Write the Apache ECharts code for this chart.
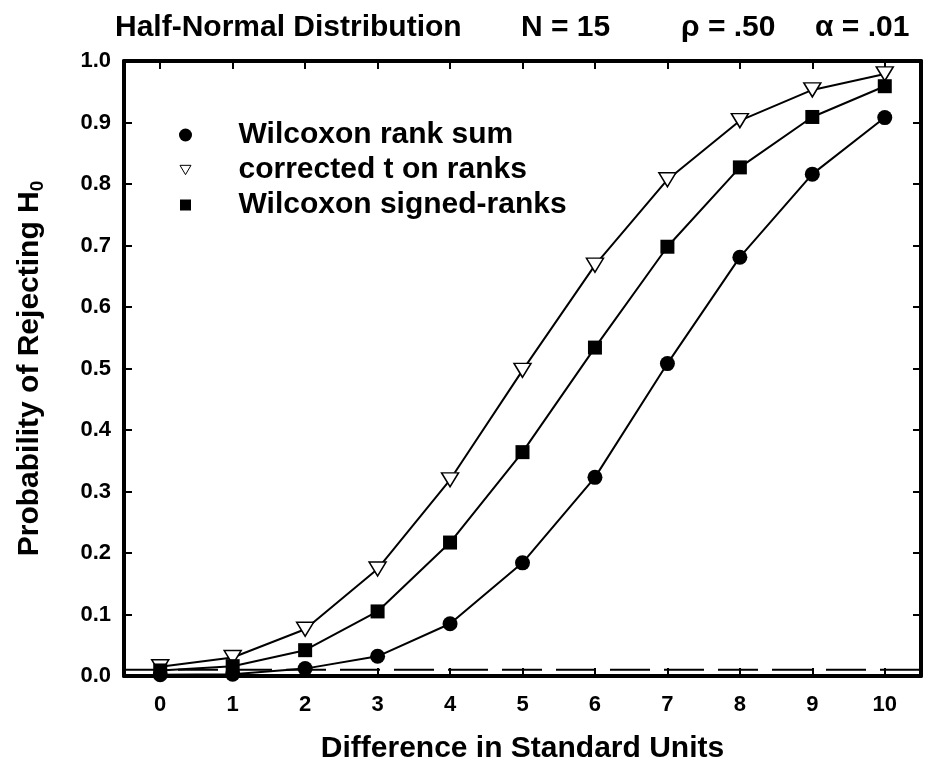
<!DOCTYPE html>
<html>
<head>
<meta charset="utf-8">
<script src="https://cdn.jsdelivr.net/npm/echarts@6/dist/echarts.min.js"></script>
<style>html,body{margin:0;padding:0;background:#fff;}#c{width:936px;height:780px;}</style>
</head>
<body>
<div id="c"></div>
<script>
var differences = [0, 1, 2, 3, 4, 5, 6, 7, 8, 9, 10];
var rankSum = [0.002, 0.003, 0.012, 0.032, 0.085, 0.184, 0.323, 0.508, 0.681, 0.816, 0.908];
var correctedT = [0.015, 0.030, 0.076, 0.174, 0.319, 0.497, 0.668, 0.807, 0.903, 0.953, 0.979];
var signedRanks = [0.009, 0.016, 0.042, 0.105, 0.217, 0.364, 0.534, 0.698, 0.827, 0.909, 0.959];
var alphaLevel = 0.01;
var xTicks = [0, 1, 2, 3, 4, 5, 6, 7, 8, 9, 10];
var yTicks = [0, 0.1, 0.2, 0.3, 0.4, 0.5, 0.6, 0.7, 0.8, 0.9, 1.0];
var seriesNames = ['Wilcoxon rank sum', 'corrected t on ranks', 'Wilcoxon signed-ranks'];
var titleParts = ['Half-Normal Distribution', 'N = 15', '\u03c1 = .50', '\u03b1 = .01'];

var FONT = '"Liberation Sans", Arial, Helvetica, sans-serif';
function pairs(vals) { return differences.map(function (d, i) { return [d, vals[i]]; }); }

var chart = echarts.init(document.getElementById('c'));
var axisLineStyle = { show: true, onZero: false, lineStyle: { color: '#000', width: 4 } };
var tickStyle = { show: true, inside: true, length: 8, lineStyle: { color: '#000', width: 2 } };
var big = { fontFamily: FONT, fontWeight: 'bold', fontSize: 30, color: '#000' };

chart.setOption({
  animation: false,
  backgroundColor: '#fff',
  title: {
    text: '{a|' + titleParts[0] + '}{b|' + titleParts[1] + '}{c|' + titleParts[2] + '}{d|' + titleParts[3] + '}',
    left: 110, top: 8,
    textStyle: {
      rich: {
        a: Object.assign({ width: 406 }, big),
        b: Object.assign({ width: 160 }, big),
        c: Object.assign({ width: 134 }, big),
        d: Object.assign({}, big)
      }
    }
  },
  grid: { left: 124, top: 61, width: 797, height: 615, containLabel: false },
  legend: {
    orient: 'vertical',
    left: 173, top: 115,
    itemWidth: 14, itemHeight: 14, itemGap: 5,
    selectedMode: false,
    textStyle: Object.assign({ lineHeight: 30, padding: [0, 0, 0, 41] }, big),
    data: [
      { name: seriesNames[0], icon: 'path://M-0.5,-0.5M13.5,13.5M6.5,0A6.5,6.5,0,1,1,6.49,0Z', itemStyle: { color: '#000', borderWidth: 0 } },
      { name: seriesNames[1], icon: 'path://M-2.75,-4.25M22.75,21.25M0,0L20,0L10,17Z', itemStyle: { color: '#fff', borderColor: '#000', borderWidth: 1 } },
      { name: seriesNames[2], icon: 'path://M-1.5,-1.5M12.5,12.5M0,0L11,0L11,11L0,11Z', itemStyle: { color: '#000', borderWidth: 0 } }
    ]
  },
  xAxis: [{
    type: 'value', min: -0.5, max: 10.5, position: 'bottom',
    axisLine: axisLineStyle,
    axisTick: Object.assign({ customValues: xTicks }, tickStyle),
    axisLabel: { customValues: xTicks, margin: 18, fontFamily: FONT, fontWeight: 'bold', fontSize: 22, color: '#000' },
    splitLine: { show: false },
    name: 'Difference in Standard Units', nameLocation: 'middle', nameGap: 58,
    nameTextStyle: big
  }, {
    type: 'value', min: -0.5, max: 10.5, position: 'top',
    axisLine: axisLineStyle,
    axisTick: Object.assign({ customValues: xTicks }, tickStyle),
    axisLabel: { show: false },
    splitLine: { show: false }
  }],
  yAxis: [{
    type: 'value', min: 0, max: 1, position: 'left',
    axisLine: axisLineStyle,
    axisTick: Object.assign({ customValues: yTicks }, tickStyle),
    axisLabel: {
      customValues: yTicks, margin: 13, fontFamily: FONT, fontWeight: 'bold', fontSize: 22, color: '#000',
      formatter: function (v) { return v.toFixed(1); }
    },
    splitLine: { show: false },
    name: 'Probability of Rejecting H{sub|0}', nameLocation: 'middle', nameGap: 77,
    nameTextStyle: Object.assign({
      rich: { sub: { fontFamily: FONT, fontWeight: 'bold', fontSize: 19, color: '#000', padding: [16, 0, 0, 0] } }
    }, big)
  }, {
    type: 'value', min: 0, max: 1, position: 'right',
    axisLine: axisLineStyle,
    axisTick: Object.assign({ customValues: yTicks }, tickStyle),
    axisLabel: { show: false },
    splitLine: { show: false }
  }],
  series: [
    {
      name: 'alpha', type: 'line', silent: true, symbol: 'none', z: 1,
      data: [[-0.5, alphaLevel], [10.5, alphaLevel]],
      lineStyle: { color: '#000', width: 2, type: [40, 14] }
    },
    {
      name: seriesNames[0], type: 'line', data: pairs(rankSum), z: 3,
      symbol: 'circle', symbolSize: 15,
      lineStyle: { color: '#000', width: 2 },
      itemStyle: { color: '#000', borderWidth: 0 }
    },
    {
      name: seriesNames[1], type: 'line', data: pairs(correctedT), z: 3,
      symbol: 'triangle', symbolRotate: 180, symbolSize: [17, 14],
      lineStyle: { color: '#000', width: 2 },
      itemStyle: { color: '#fff', borderColor: '#000', borderWidth: 1.5 }
    },
    {
      name: seriesNames[2], type: 'line', data: pairs(signedRanks), z: 3,
      symbol: 'rect', symbolSize: 14,
      lineStyle: { color: '#000', width: 2 },
      itemStyle: { color: '#000', borderWidth: 0 }
    }
  ]
});
</script>
</body>
</html>
